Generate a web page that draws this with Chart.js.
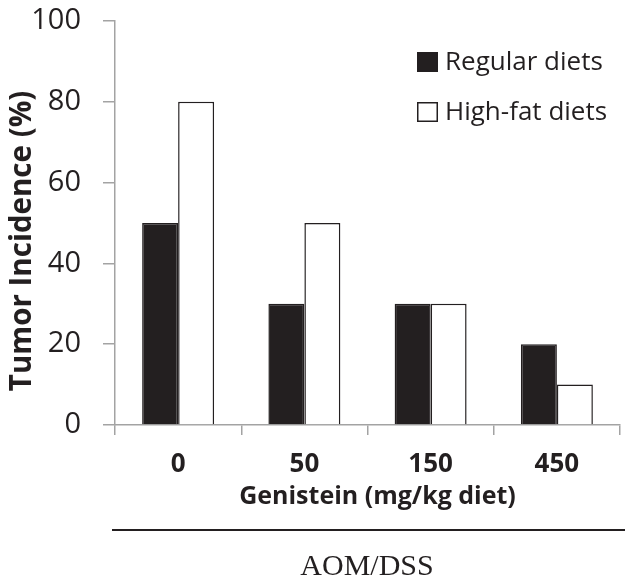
<!DOCTYPE html>
<html>
<head>
<meta charset="utf-8">
<script src="https://cdn.jsdelivr.net/npm/chart.js@4.4.1/dist/chart.umd.min.js"></script>
<style>
  html, body { margin: 0; padding: 0; background: #ffffff; }
  #wrap { width: 638px; height: 584px; position: relative; }
</style>
</head>
<body>
<div id="wrap"><canvas id="chart" width="638" height="584"></canvas></div>
<script>
// Genistein doses on the x axis and tumor incidence per diet
const doses = ['0', '50', '150', '450'];
const regularDiets = [50, 30, 30, 20];
const highFatDiets = [80, 50, 30, 10];
const yTicks = [0, 20, 40, 60, 80, 100];
const yTitle = 'Tumor Incidence (%)';
const xTitle = 'Genistein (mg/kg diet)';
const groupLabel = 'AOM/DSS';

const INK = '#231f20';
const AXIS = '#a3a3a3';
const SANS = '"Open Sans", Lato, sans-serif';

// Axis titles, legend boxes in the upper right of the plot area, and the
// treatment bracket line with its caption at the bottom.
const extras = {
  id: 'extras',
  afterDraw(chart) {
    const ctx = chart.ctx;
    const area = chart.chartArea;
    ctx.save();
    ctx.fillStyle = INK;
    ctx.textAlign = 'center';
    ctx.textBaseline = 'middle';
    // y axis title
    ctx.save();
    ctx.translate(23, (area.top + area.bottom) / 2 + 18);
    ctx.rotate(-Math.PI / 2);
    ctx.font = 'bold 29.5px ' + SANS;
    ctx.fillText(yTitle, 0, 0);
    ctx.restore();
    // x axis title
    ctx.font = 'bold 25px ' + SANS;
    ctx.fillText(xTitle, (area.left + area.right) / 2 + 10, area.bottom + 72);
    // legend
    const bx = area.right - 203;
    chart.data.datasets.forEach((ds, i) => {
      const cy = area.top + 41 + i * 50;
      ctx.fillStyle = ds.backgroundColor;
      ctx.fillRect(bx, cy - 10, 21, 20);
      ctx.strokeStyle = INK;
      ctx.lineWidth = 1.5;
      ctx.strokeRect(bx + 0.75, cy - 9.25, 19.5, 18.5);
      ctx.fillStyle = INK;
      ctx.font = '26px ' + SANS;
      ctx.textAlign = 'left';
      ctx.fillText(ds.label, bx + 28, cy + 1);
    });
    // bracket line
    ctx.strokeStyle = INK;
    ctx.lineWidth = 2;
    ctx.beginPath();
    ctx.moveTo(112, 530);
    ctx.lineTo(625, 530);
    ctx.stroke();
    // treatment caption
    ctx.fillStyle = INK;
    ctx.font = '30px "Liberation Serif", "Times New Roman", serif';
    ctx.textAlign = 'center';
    ctx.fillText(groupLabel, 367, 567);
    ctx.restore();
  }
};

new Chart(document.getElementById('chart'), {
  type: 'bar',
  data: {
    labels: doses,
    datasets: [
      {
        label: 'Regular diets',
        data: regularDiets,
        backgroundColor: INK,
        borderColor: INK,
        borderWidth: 1.5
      },
      {
        label: 'High-fat diets',
        data: highFatDiets,
        backgroundColor: '#ffffff',
        borderColor: INK,
        borderWidth: 1.5
      }
    ]
  },
  options: {
    responsive: false,
    animation: false,
    devicePixelRatio: 1,
    layout: { padding: { left: 0, right: 18, top: 21, bottom: 70 } },
    datasets: {
      bar: { categoryPercentage: 0.57, barPercentage: 1.0 }
    },
    plugins: {
      legend: { display: false },
      tooltip: { enabled: false }
    },
    scales: {
      x: {
        grid: {
          offset: true,
          drawOnChartArea: false,
          drawTicks: true,
          tickLength: 10,
          color: AXIS,
          lineWidth: 1.5
        },
        border: { display: true, color: AXIS, width: 1.5 },
        ticks: {
          color: INK,
          padding: 14,
          font: { family: SANS, size: 26, weight: 'bold' }
        },
        title: { display: false },
        afterFit(scale) {
          scale.height = 89;
          scale.paddingLeft = 0;
          scale.paddingRight = 0;
        }
      },
      y: {
        min: 0,
        max: 100,
        afterBuildTicks(scale) {
          scale.ticks = yTicks.map(v => ({ value: v }));
        },
        grid: {
          drawOnChartArea: false,
          drawTicks: true,
          tickLength: 12,
          color: AXIS,
          lineWidth: 1.5
        },
        border: { display: true, color: AXIS, width: 1.5 },
        ticks: {
          color: INK,
          padding: 22,
          font: { family: SANS, size: 29 }
        },
        title: { display: false },
        afterFit(scale) {
          scale.width = 115;
          scale.paddingTop = 0;
          scale.paddingBottom = 0;
        }
      }
    }
  },
  plugins: [extras]
});
</script>
</body>
</html>
